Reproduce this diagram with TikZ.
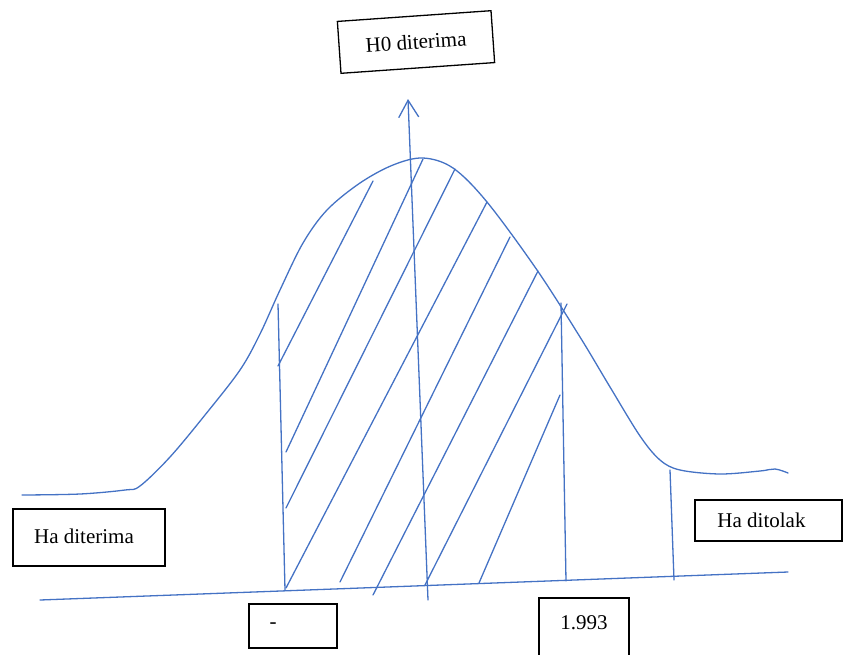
\documentclass[tikz,border=0pt]{standalone}
\usepackage{fontspec}
\setmainfont{Liberation Serif}
\usetikzlibrary{arrows.meta}
\definecolor{pen}{RGB}{68,114,196}
\tikzset{
  pline/.style={draw=pen, line width=1.3pt, line cap=round, line join=round},
  lbox/.style={draw=black, line width=1.3pt, fill=white, inner sep=0pt, font=\fontsize{21}{25}\selectfont},
}
\begin{document}
\begin{tikzpicture}[x=1pt,y=-1pt]
\useasboundingbox (0,0) rectangle (843,654);
% bell curve
\draw[pline] plot[smooth, tension=0.55] coordinates {
 (22,495) (80,494) (125,490) (140,486) (170,457) (205,415) (240,370) (260,334)
 (280,290) (303,243) (327,210) (360,183) (393,165) (423,158) (453,168) (487,202)
 (537,270) (580,337) (610,387) (640,436) (660,460) (680,470) (720,474) (760,471)
 (775,469) (788,473)};
% base line
\coordinate (bl) at (40,600);
\coordinate (br) at (788,572);
\draw[pline] (bl) -- (br);
% vertical boundaries
\coordinate (v1t) at (278,304); \coordinate (v1b) at (285,590);
\coordinate (v2t) at (561,303); \coordinate (v2b) at (566,581);
\coordinate (v3t) at (670,470); \coordinate (v3b) at (674,580);
\draw[pline] (v1t) -- (v1b);
\draw[pline] (v2t) -- (v2b);
\draw[pline] (v3t) -- (v3b);
% hatching
\foreach \ax/\ay/\bx/\by [count=\i] in {
  373/181/278/366, 423/159/286/452, 455/169/286/508, 487/202/286/588,
  510/237/340/582, 538/271/373/595, 567/304/425/585, 560/395/479/583}{
  \coordinate (h\i a) at (\ax,\ay);
  \coordinate (h\i b) at (\bx,\by);
  \draw[pline] (h\i a) -- (h\i b);
}
% axis arrow
\coordinate (axb) at (428,600);
\coordinate (axt) at (408,99);
\draw[pline, -{Straight Barb[length=17pt,width=20pt,line width=1.3pt]}] (axb) -- (axt);
% labels
\node[lbox, rotate=4, minimum width=154pt, minimum height=52pt] (h0) at (416,42) {H0 diterima};
\node[lbox, minimum width=152pt, minimum height=57pt] (hadt) at (89,537.5) {\raisebox{3pt}{Ha diterima\hspace{10pt}}};
\node[lbox, minimum width=147pt, minimum height=41pt] (hatl) at (768.5,520.5) {\raisebox{-2pt}{Ha ditolak\hspace{14pt}}};
\node[lbox, minimum width=88pt, minimum height=44pt] (neg) at (293,626) {\hspace{-40pt}\raisebox{-4pt}{-}};
\node[lbox, minimum width=90pt, minimum height=66pt] (val) at (584,631) {\raisebox{16pt}{1.993}};
\end{tikzpicture}
\end{document}
